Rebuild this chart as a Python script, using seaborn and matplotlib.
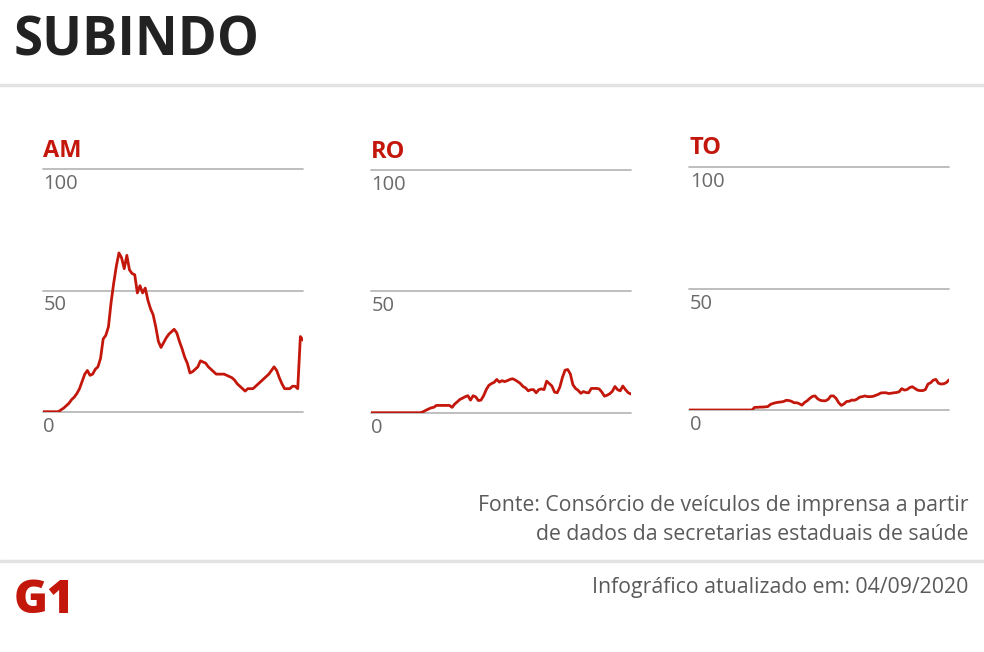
import numpy as np
import pandas as pd
import matplotlib.pyplot as plt
import seaborn as sns

RED = "#c4170c"
GRID = "#b9b9b9"
LABEL = "#6a6a6a"

states = ["AM", "RO", "TO"]
y_ticks = [0, 50, 100]

am_values = [
    0, 0, 0, 0, 0, 0, 0, 0.8, 1.5, 2.5,
    3.5, 5, 6, 7.5, 9.5, 12.5, 15.5, 17, 15, 15.5,
    17.5, 18.5, 22, 30, 31.5, 35, 45, 53, 60, 65.5,
    63.5, 59, 64.5, 58.5, 57, 56.5, 49, 52, 49, 51,
    46, 42.5, 40, 35, 29, 26.5, 28.5, 30.5, 32, 33,
    34, 32.5, 29, 26, 22.5, 20, 16, 16.5, 17.5, 18.5,
    21, 20.5, 20, 18.5, 17.5, 16.5, 15.5, 15.5, 15.5, 15.5,
    15, 14.5, 14, 13, 11.5, 10.5, 9.5, 8.5, 9.5, 9.5,
    9.5, 10.5, 11.5, 12.5, 13.5, 14.5, 15.5, 17, 18.5, 17,
    14, 11.5, 9.5, 9.5, 9.5, 10.5, 10.5, 9.5, 31, 29.5,
]

ro_values = [
    0, 0, 0, 0, 0, 0, 0, 0, 0, 0,
    0, 0, 0, 0, 0, 0, 0, 0, 0, 0,
    0.4, 1, 1.5, 2, 2.2, 3, 3, 3, 3, 3,
    3, 2.2, 3.6, 4.5, 5.5, 6, 6.6, 7, 5.2, 7,
    6.5, 5, 5.2, 7, 9.5, 11.3, 12, 12.5, 13.7, 12.6,
    13.2, 12.8, 13.2, 13.7, 14, 13.5, 12.8, 12, 10.8, 10.2,
    9, 9.5, 9.5, 8.2, 9.5, 9.8, 9.5, 13, 12, 11,
    8.5, 8.2, 10.5, 14.5, 17.5, 17.8, 16, 11.5, 10, 9.2,
    8, 8.7, 8.3, 8.2, 10, 10, 10, 9.8, 8.5, 6.8,
    7.2, 7.8, 8.8, 10.8, 9.5, 9, 11, 9.5, 8.3, 7.7,
]

to_values = [
    0, 0, 0, 0, 0, 0, 0, 0, 0, 0,
    0, 0, 0, 0, 0, 0, 0, 0, 0, 0,
    0, 0, 0, 0, 0, 1.1, 1.1, 1.2, 1.2, 1.3,
    1.4, 2.3, 2.7, 3, 3.2, 3.3, 3.5, 4, 3.9, 3.6,
    3, 3, 2.6, 2, 3.1, 3.8, 4.8, 5.6, 5.8, 4.6,
    4, 3.8, 3.8, 4.4, 5.8, 5.8, 4.8, 3, 1.9, 2.5,
    3.5, 3.6, 4.1, 4, 4.5, 5.3, 5.5, 5.8, 5.5, 5.5,
    5.6, 6, 6.4, 7, 7.1, 7.1, 6.8, 6.9, 7.1, 7.2,
    7.5, 8.8, 8.2, 8.4, 9.2, 9.6, 8.9, 8.2, 8, 8,
    8.4, 10.7, 11.2, 12.3, 12.6, 11, 10.7, 10.8, 11.3, 12.4,
]

series = {"AM": am_values, "RO": ro_values, "TO": to_values}

# panel placement in pixels: left, right, y of 0 line, y of 100 line, y of title baseline
panels = {
    "AM": (42.7, 303.0, 411.7, 169.3, 157),
    "RO": (370.7, 630.7, 412.7, 170.0, 158),
    "TO": (689.0, 949.0, 410.0, 167.3, 154),
}

W, H = 984, 652

sns.set_style("white")
plt.rcParams["font.family"] = ["Open Sans", "DejaVu Sans"]

fig = plt.figure(figsize=(W / 100, H / 100), dpi=100)
fig.patch.set_facecolor("white")

for st in states:
    left, right, y0, y100, ty = panels[st]
    ax = fig.add_axes([left / W, 1 - y0 / H, (right - left) / W, (y0 - y100) / H])
    df = pd.DataFrame({"dia": np.arange(len(series[st])), "valor": series[st]})
    for t in y_ticks:
        ax.axhline(t, color=GRID, lw=1.3, clip_on=False, zorder=1)
        ax.annotate(str(t), xy=(0, t), xycoords=("axes fraction", "data"),
                    xytext=(0.5, -3.5), textcoords="offset points",
                    ha="left", va="top", fontsize=14.5,
                    color=LABEL, annotation_clip=False)
    sns.lineplot(data=df, x="dia", y="valor", ax=ax, color=RED, lw=2.0, zorder=3)
    ax.set_xlim(0, len(series[st]) - 1)
    ax.set_ylim(0, 100)
    ax.set_axis_off()
    fig.text(left / W, 1 - ty / H, st, color=RED, fontsize=17,
             fontweight="bold", ha="left", va="baseline")

# header
fig.text(14 / W, 1 - 55 / H, "SUBINDO", fontsize=38, fontweight="bold",
         color="#222222", ha="left", va="baseline")
fig.add_artist(plt.Line2D([0, 1], [1 - 85 / H, 1 - 85 / H], color="#e3e3e3", lw=2.5))

# source and footer
fig.text(968 / W, 1 - 506 / H, "Fonte: Consórcio de veículos de imprensa a partir",
         fontsize=15.3, color="#5a5a5a", ha="right", va="center")
fig.text(968 / W, 1 - 535 / H, "de dados da secretarias estaduais de saúde",
         fontsize=15.3, color="#5a5a5a", ha="right", va="center")
fig.add_artist(plt.Line2D([0, 1], [1 - 561 / H, 1 - 561 / H], color="#e3e3e3", lw=2.5))
fig.text(14 / W, 1 - 613 / H, "G1", fontsize=33, fontweight="heavy", color=RED,
         ha="left", va="baseline")
fig.text(968 / W, 1 - 587 / H, "Infográfico atualizado em: 04/09/2020",
         fontsize=15.3, color="#5a5a5a", ha="right", va="center")

fig.savefig("out.png", dpi=100, facecolor="white")
